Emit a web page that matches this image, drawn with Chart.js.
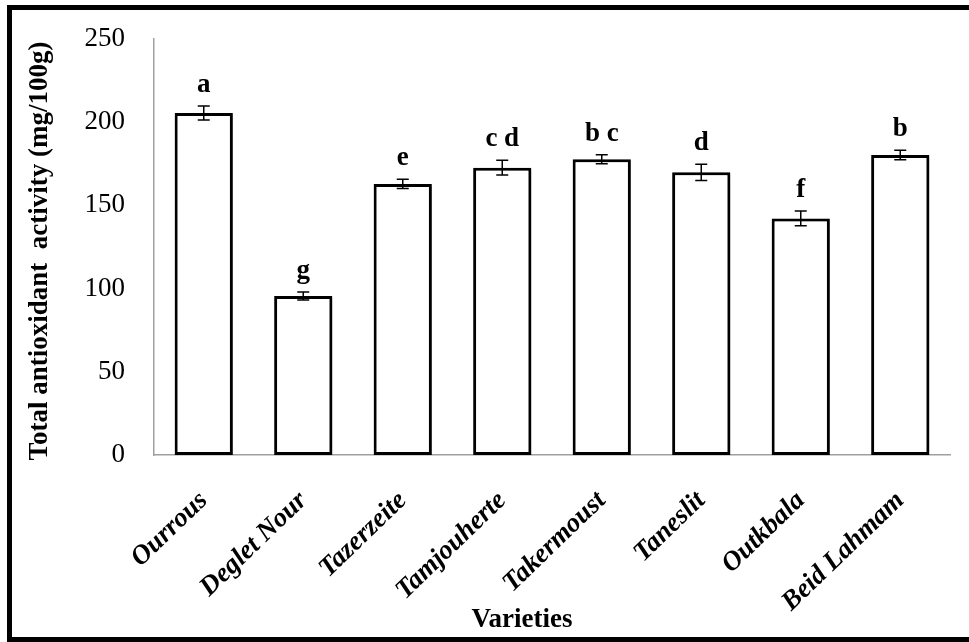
<!DOCTYPE html>
<html>
<head>
<meta charset="utf-8">
<title>Total antioxidant activity by variety</title>
<script src="https://cdn.jsdelivr.net/npm/chart.js@4/dist/chart.umd.min.js"></script>
<style>
  html, body { margin: 0; padding: 0; background: #fff; }
  #wrap { width: 969px; height: 642px; }
</style>
</head>
<body>
<div id="wrap"><canvas id="chart" width="969" height="642"></canvas></div>
<script>
// Date varieties and their total antioxidant activity (mg/100g)
const varieties = ['Ourrous', 'Deglet Nour', 'Tazerzeite', 'Tamjouherte', 'Takermoust', 'Taneslit', 'Outkbala', 'Beid Lahmam'];
const activity = [205.5, 95.5, 162.9, 172.7, 177.7, 169.9, 142.2, 180.3];
const stdError = [4.2, 2.4, 2.8, 4.5, 2.7, 4.9, 4.5, 2.9];
const groups = ['a', 'g', 'e', 'c d', 'b c', 'd', 'f', 'b'];
const yTicks = [0, 50, 100, 150, 200, 250];

const SERIF = "'Liberation Serif', 'Times New Roman', Times, serif";

// Error bars and significance letters over each bar
const errorBarPlugin = {
  id: 'errorBars',
  afterDatasetsDraw(chart) {
    const ctx = chart.ctx;
    const meta = chart.getDatasetMeta(0);
    const y = chart.scales.y;
    ctx.save();
    ctx.strokeStyle = '#000';
    ctx.lineWidth = 1.5;
    meta.data.forEach((bar, i) => {
      const x = bar.x;
      const top = y.getPixelForValue(activity[i] + stdError[i]);
      const bot = y.getPixelForValue(activity[i] - stdError[i]);
      ctx.beginPath();
      ctx.moveTo(x, top); ctx.lineTo(x, bot);
      ctx.moveTo(x - 6, top); ctx.lineTo(x + 6, top);
      ctx.moveTo(x - 6, bot); ctx.lineTo(x + 6, bot);
      ctx.stroke();
      ctx.fillStyle = '#000';
      ctx.font = 'bold 27px ' + SERIF;
      ctx.textAlign = 'center';
      ctx.textBaseline = 'alphabetic';
      ctx.fillText(groups[i], x, top - 14);
    });
    ctx.restore();
  }
};

// Axis titles and the outer frame
const framePlugin = {
  id: 'frame',
  afterDraw(chart) {
    const ctx = chart.ctx;
    ctx.save();
    ctx.fillStyle = '#000';
    ctx.font = 'bold 27px ' + SERIF;
    ctx.textAlign = 'center';
    ctx.textBaseline = 'middle';
    ctx.fillText('Varieties', 522, 620);
    ctx.translate(40, 251);
    ctx.rotate(-Math.PI / 2);
    ctx.fillText('Total antioxidant  activity (mg/100g)', 0, 0);
    ctx.restore();

    ctx.save();
    ctx.strokeStyle = '#000';
    ctx.lineWidth = 5;
    ctx.beginPath();
    ctx.moveTo(975, 7.5);
    ctx.lineTo(9.5, 7.5);
    ctx.lineTo(9.5, 639.5);
    ctx.lineTo(975, 639.5);
    ctx.stroke();
    ctx.restore();
  }
};

// Soft drop shadow under the bars
const shadowPlugin = {
  id: 'barShadow',
  beforeDatasetsDraw(chart) {
    const ctx = chart.ctx;
    ctx.save();
    ctx.shadowColor = 'rgba(0,0,0,0.35)';
    ctx.shadowBlur = 3;
    ctx.shadowOffsetX = 1.5;
    ctx.shadowOffsetY = 1.5;
  },
  afterDatasetsDraw(chart) {
    chart.ctx.restore();
  }
};

new Chart(document.getElementById('chart'), {
  type: 'bar',
  data: {
    labels: varieties,
    datasets: [{
      data: activity,
      backgroundColor: '#ffffff',
      borderColor: '#000000',
      borderWidth: 3,
      borderSkipped: false,
      barPercentage: 0.585,
      categoryPercentage: 1.0
    }]
  },
  options: {
    responsive: false,
    animation: false,
    events: [],
    layout: { padding: { left: 0, right: 19, top: 39, bottom: 0 } },
    plugins: {
      legend: { display: false },
      tooltip: { enabled: false },
      title: { display: false }
    },
    scales: {
      x: {
        grid: { display: false, drawTicks: false },
        border: { display: true, color: '#a0a0a0', width: 1.5 },
        ticks: {
          color: '#000',
          font: { family: SERIF, size: 27, weight: 'bold', style: 'italic' },
          minRotation: 44,
          maxRotation: 44,
          padding: 30,
          autoSkip: false
        },
        afterFit(scale) {
          scale.height = 187;
          scale.paddingLeft = 0;
          scale.paddingRight = 0;
        }
      },
      y: {
        min: 0,
        max: 250,
        grid: { display: false, drawTicks: false },
        border: { display: true, color: '#a0a0a0', width: 1.5 },
        afterBuildTicks(scale) { scale.ticks = yTicks.map(v => ({ value: v })); },
        ticks: {
          color: '#000',
          font: { family: SERIF, size: 27 },
          padding: 29
        },
        afterFit(scale) {
          scale.width = 154;
          scale.paddingTop = 0;
          scale.paddingBottom = 0;
        }
      }
    }
  },
  plugins: [shadowPlugin, errorBarPlugin, framePlugin]
});
</script>
</body>
</html>
